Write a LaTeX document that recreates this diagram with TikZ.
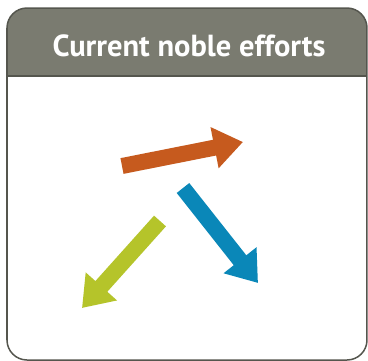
\documentclass[tikz,border=0pt]{standalone}
\usepackage{fontspec}
\setmainfont{PT Sans}
\usetikzlibrary{arrows.meta}
\definecolor{hdr}{HTML}{7A7B70}
\definecolor{frame}{HTML}{55564E}
\definecolor{aorange}{HTML}{C65A1E}
\definecolor{ablue}{HTML}{0A87B8}
\definecolor{agreen}{HTML}{B5C42A}
\tikzset{
  bigarrow/.style={line width=16pt, line cap=butt, -{Triangle[length=29pt 0 0, width=40pt 0 0]}},
}
\begin{document}
\begin{tikzpicture}[x=1pt,y=-1pt]
\useasboundingbox (0,0) rectangle (368,360);
% header
\fill[hdr, rounded corners=20pt] (7,8) -- (367,8) -- (367,76) -- (7,76) -- cycle;
\fill[hdr] (7,40) rectangle (367,76);
\fill[white, rounded corners=20pt] (7,76) rectangle (367,360);
\fill[white] (7,76) rectangle (367,100);
\draw[frame, line width=1.5pt, rounded corners=20pt] (7,8) rectangle (367,360);
\draw[frame, line width=1.5pt] (7,76) -- (367,76);
\node[text=white, font=\bfseries\fontsize{30.5}{32}\selectfont, anchor=base] (title) at (189,56) {Current noble efforts};
% arrows
\coordinate (ot) at (122,166);
\coordinate (oh) at (243,142);
\coordinate (bt) at (183,188);
\coordinate (bh) at (258,283);
\coordinate (gt) at (160,221);
\coordinate (gh) at (82,308);
\draw[bigarrow, aorange] (ot) -- (oh);
\draw[bigarrow, ablue] (bt) -- (bh);
\draw[bigarrow, agreen] (gt) -- (gh);
\end{tikzpicture}
\end{document}
